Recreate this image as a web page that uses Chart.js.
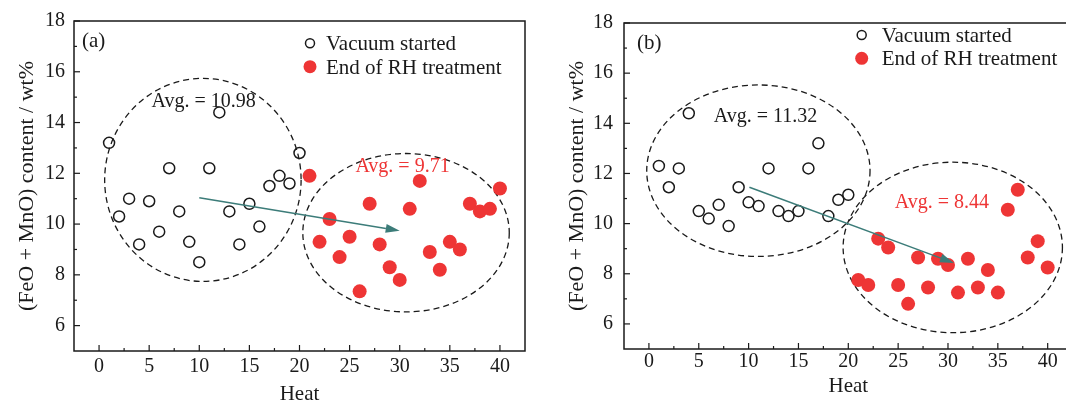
<!DOCTYPE html>
<html>
<head>
<meta charset="utf-8">
<script src="https://cdn.jsdelivr.net/npm/chart.js@4.4.0/dist/chart.umd.min.js"></script>
<style>
  html, body { margin: 0; padding: 0; background: #fff; overflow: hidden; }
  #wrap { position: relative; width: 1066px; height: 407px; overflow: hidden; }
  canvas { position: absolute; top: 0; }
  #chartA { left: 0; }
  #chartB { left: 540px; }
</style>
</head>
<body>
<div id="wrap">
  <canvas id="chartA" width="540" height="407"></canvas>
  <canvas id="chartB" width="540" height="407"></canvas>
</div>
<script>
// Heat numbers
const vacuumHeats = [1, 2, 3, 4, 5, 6, 7, 8, 9, 10, 11, 12, 13, 14, 15, 16, 17, 18, 19, 20];
const rhHeats = [21, 22, 23, 24, 25, 26, 27, 28, 29, 30, 31, 32, 33, 34, 35, 36, 37, 38, 39, 40];

// (a) FeO + MnO content, wt%
const vacuumA = [13.2, 10.3, 11.0, 9.2, 10.9, 9.7, 12.2, 10.5, 9.3, 8.5,
                 12.2, 14.4, 10.5, 9.2, 10.8, 9.9, 11.5, 11.9, 11.6, 12.8];
const rhA = [11.9, 9.3, 10.2, 8.7, 9.5, 7.35, 10.8, 9.2, 8.3, 7.8,
             10.6, 11.7, 8.9, 8.2, 9.3, 9.0, 10.8, 10.5, 10.6, 11.4];

// (b) FeO + MnO content, wt%
const vacuumB = [12.3, 11.45, 12.2, 14.4, 10.5, 10.2, 10.75, 9.9, 11.45, 10.85,
                 10.7, 12.2, 10.5, 10.3, 10.5, 12.2, 13.2, 10.3, 10.95, 11.15];
const rhB = [7.75, 7.55, 9.4, 9.05, 7.55, 6.8, 8.65, 7.45, 8.6, 8.35,
             7.25, 8.6, 7.45, 8.15, 7.25, 10.55, 11.35, 8.65, 9.3, 8.25];

const seriesLabels = ['Vacuum started', 'End of RH treatment'];
const avgLabelsA = ['Avg. = 10.98', 'Avg. = 9.71'];
const avgLabelsB = ['Avg. = 11.32', 'Avg. = 8.44'];
const panelLabels = ['(a)', '(b)'];

const xTickValues = [0, 5, 10, 15, 20, 25, 30, 35, 40];
const yTickValues = [6, 8, 10, 12, 14, 16, 18];

const RED = '#ee3535';
const INK = '#1a1a1a';
const ARROW = '#3c7c79';
const FONT = 'Liberation Serif, Times New Roman, serif';

// Dashed ellipses, arrow, text labels (data coordinates)
const decorA = {
    panel: { text: panelLabels[0], x: -1.7, y: 17.2 },
    ellipses: [
        { cx: 10.36, cy: 11.74, rx: 9.8, ry: 4.0 },
        { cx: 30.63, cy: 9.66, rx: 10.3, ry: 3.12 }
    ],
    arrow: { x1: 10.0, y1: 11.04, x2: 30.0, y2: 9.74 },
    texts: [
        { text: avgLabelsA[0], x: 10.43, y: 14.83, color: INK },
        { text: avgLabelsA[1], x: 30.28, y: 12.27, color: RED }
    ],
    legend: { x: 310, y1: 43.3, y2: 66.7, tx: 326, b1: 50, b2: 74 }
};
const decorB = {
    panel: { text: panelLabels[1], x: -1.2, y: 17.2 },
    ellipses: [
        { cx: 10.98, cy: 12.11, rx: 11.2, ry: 3.42 },
        { cx: 30.48, cy: 9.05, rx: 11.0, ry: 3.40 }
    ],
    arrow: { x1: 10.08, y1: 11.45, x2: 30.6, y2: 8.43 },
    texts: [
        { text: avgLabelsB[0], x: 11.69, y: 14.28, color: INK },
        { text: avgLabelsB[1], x: 29.38, y: 10.84, color: RED }
    ],
    legend: { x: 321.7, y1: 35, y2: 58.3, tx: 341.7, b1: 41.7, b2: 64.5 }
};

function line(ctx, x1, y1, x2, y2) {
    ctx.beginPath();
    ctx.moveTo(x1, y1);
    ctx.lineTo(x2, y2);
    ctx.stroke();
}

const decorPlugin = {
    id: 'decor',
    beforeDatasetsDraw(chart, args, opts) {
        const { ctx, scales: { x, y } } = chart;
        ctx.save();
        ctx.strokeStyle = INK;
        ctx.lineWidth = 1.3;
        ctx.setLineDash([6, 4]);
        opts.ellipses.forEach(e => {
            const cx = x.getPixelForValue(e.cx);
            const cy = y.getPixelForValue(e.cy);
            const rx = x.getPixelForValue(e.cx + e.rx) - cx;
            const ry = cy - y.getPixelForValue(e.cy + e.ry);
            ctx.beginPath();
            ctx.ellipse(cx, cy, rx, ry, 0, 0, Math.PI * 2);
            ctx.stroke();
        });
        ctx.restore();
    },
    afterDatasetsDraw(chart, args, opts) {
        const { ctx, scales: { x, y } } = chart;
        ctx.save();
        // arrow
        const a = opts.arrow;
        const x1 = x.getPixelForValue(a.x1), y1 = y.getPixelForValue(a.y1);
        const x2 = x.getPixelForValue(a.x2), y2 = y.getPixelForValue(a.y2);
        const ang = Math.atan2(y2 - y1, x2 - x1);
        const headLen = 14, headW = 4.5;
        ctx.strokeStyle = ARROW;
        ctx.fillStyle = ARROW;
        ctx.lineWidth = 1.5;
        const bx = x2 - headLen * Math.cos(ang), by = y2 - headLen * Math.sin(ang);
        line(ctx, x1, y1, bx, by);
        ctx.beginPath();
        ctx.moveTo(x2, y2);
        ctx.lineTo(bx + headW * Math.sin(ang), by - headW * Math.cos(ang));
        ctx.lineTo(bx - headW * Math.sin(ang), by + headW * Math.cos(ang));
        ctx.closePath();
        ctx.fill();

        // average labels
        ctx.font = '20px ' + FONT;
        ctx.textAlign = 'center';
        ctx.textBaseline = 'middle';
        opts.texts.forEach(t => {
            ctx.fillStyle = t.color;
            ctx.fillText(t.text, x.getPixelForValue(t.x), y.getPixelForValue(t.y));
        });

        // panel letter
        ctx.fillStyle = INK;
        ctx.textAlign = 'left';
        ctx.font = '21px ' + FONT;
        ctx.fillText(opts.panel.text, x.getPixelForValue(opts.panel.x), y.getPixelForValue(opts.panel.y));

        // legend
        const lg = opts.legend;
        ctx.strokeStyle = INK;
        ctx.lineWidth = 1.5;
        ctx.beginPath();
        ctx.arc(lg.x, lg.y1, 4.5, 0, Math.PI * 2);
        ctx.stroke();
        ctx.fillStyle = RED;
        ctx.beginPath();
        ctx.arc(lg.x, lg.y2, 6.5, 0, Math.PI * 2);
        ctx.fill();
        ctx.fillStyle = INK;
        ctx.textBaseline = 'alphabetic';
        ctx.fillText(chart.data.datasets[0].label, lg.tx, lg.b1);
        ctx.fillText(chart.data.datasets[1].label, lg.tx, lg.b2);
        ctx.restore();
    },
    afterDraw(chart) {
        const { ctx, chartArea: area, scales: { x, y } } = chart;
        ctx.save();
        ctx.strokeStyle = INK;
        ctx.lineWidth = 1.5;
        ctx.strokeRect(area.left, area.top, area.right - area.left, area.bottom - area.top);
        ctx.lineWidth = 1.2;
        // inward ticks, major + minor
        xTickValues.forEach((v, i) => {
            const px = x.getPixelForValue(v);
            line(ctx, px, area.bottom, px, area.bottom - 6);
            if (i < xTickValues.length - 1) {
                const pm = x.getPixelForValue((v + xTickValues[i + 1]) / 2);
                line(ctx, pm, area.bottom, pm, area.bottom - 3);
            }
        });
        yTickValues.forEach((v, i) => {
            const py = y.getPixelForValue(v);
            line(ctx, area.left, py, area.left + 6, py);
            if (i < yTickValues.length - 1) {
                const pm = y.getPixelForValue((v + yTickValues[i + 1]) / 2);
                line(ctx, area.left, pm, area.left + 3, pm);
            }
        });
        ctx.restore();
    }
};

function makeChart(canvasId, vacuum, rh, decor, lay) {
    const ctx = document.getElementById(canvasId);
    return new Chart(ctx, {
        type: 'scatter',
        data: {
            datasets: [
                {
                    label: seriesLabels[0],
                    data: vacuumHeats.map((h, i) => ({ x: h, y: vacuum[i] })),
                    pointStyle: 'circle',
                    pointRadius: 5.5,
                    pointBorderWidth: 1.5,
                    borderColor: INK,
                    backgroundColor: 'rgba(255,255,255,0)'
                },
                {
                    label: seriesLabels[1],
                    data: rhHeats.map((h, i) => ({ x: h, y: rh[i] })),
                    pointStyle: 'circle',
                    pointRadius: 7,
                    pointBorderWidth: 0,
                    borderColor: RED,
                    backgroundColor: RED
                }
            ]
        },
        options: {
            responsive: false,
            animation: false,
            layout: {
                padding: { left: 0, top: lay.top, right: lay.right, bottom: 0 }
            },
            plugins: {
                legend: { display: false },
                tooltip: { enabled: false },
                decor: decor
            },
            scales: {
                x: {
                    type: 'linear',
                    min: -2.5,
                    max: 42.5,
                    afterBuildTicks: s => { s.ticks = xTickValues.map(v => ({ value: v })); },
                    afterFit: s => { s.height = lay.xHeight; },
                    grid: { display: false, drawTicks: false },
                    border: { display: false },
                    ticks: {
                        color: INK,
                        padding: lay.xPad,
                        font: { family: FONT, size: 20 }
                    },
                    title: {
                        display: true,
                        text: 'Heat',
                        color: INK,
                        font: { family: FONT, size: 21 },
                        padding: { top: 0, bottom: lay.xTitlePad }
                    }
                },
                y: {
                    min: 5,
                    max: 18,
                    afterBuildTicks: s => { s.ticks = yTickValues.map(v => ({ value: v })); },
                    afterFit: s => { s.width = lay.yWidth; },
                    grid: { display: false, drawTicks: false },
                    border: { display: false },
                    ticks: {
                        color: INK,
                        padding: lay.yPad,
                        font: { family: FONT, size: 20 }
                    },
                    title: {
                        display: true,
                        text: '(FeO + MnO) content / wt%',
                        color: INK,
                        font: { family: FONT, size: 22 },
                        padding: { top: lay.yTitlePad, bottom: 0 }
                    }
                }
            }
        },
        plugins: [decorPlugin]
    });
}

makeChart('chartA', vacuumA, rhA, decorA,
    { top: 18.5, right: 15, xHeight: 56, yWidth: 74, xPad: 4, yPad: 9, xTitlePad: 0, yTitlePad: 14.5 });
makeChart('chartB', vacuumB, rhB, decorB,
    { top: 19, right: 7.4, xHeight: 58, yWidth: 84, xPad: 1, yPad: 11, xTitlePad: 8, yTitlePad: 24.5 });
</script>
</body>
</html>
